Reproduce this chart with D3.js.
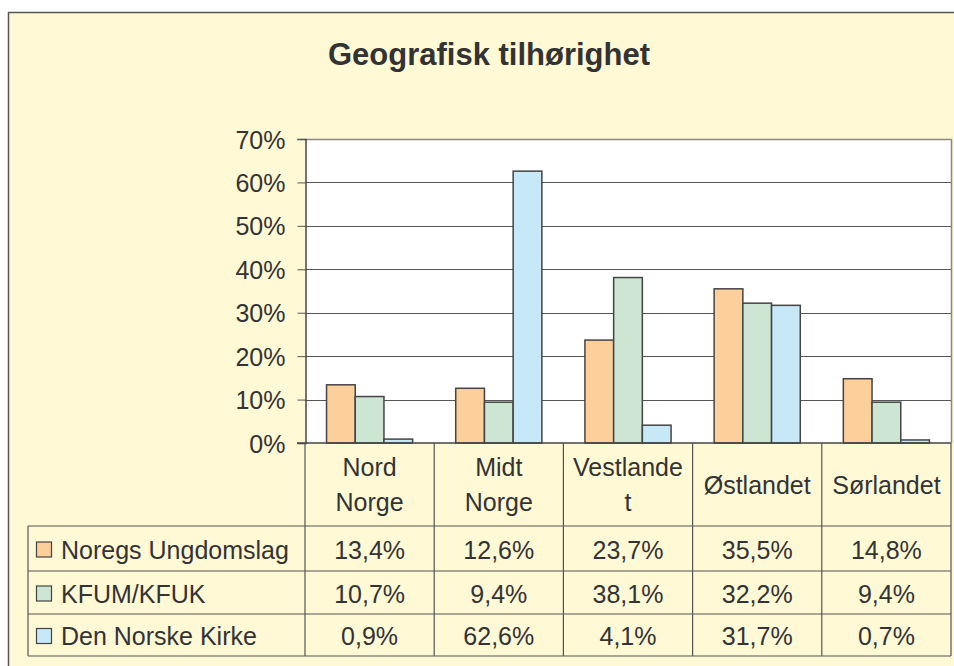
<!DOCTYPE html>
<html><head><meta charset="utf-8">
<script src="https://cdn.jsdelivr.net/npm/d3@7"></script>
<style>body{margin:0;background:#fff}svg{display:block}</style>
</head><body>
<svg id="chart" width="954" height="666"></svg>
<script>
const categories = ["Nord Norge","Midt Norge","Vestlandet","Østlandet","Sørlandet"];
const headerLines = [["Nord","Norge"],["Midt","Norge"],["Vestlande","t"],["Østlandet"],["Sørlandet"]];
const seriesNames = ["Noregs Ungdomslag","KFUM/KFUK","Den Norske Kirke"];
const noregsUngdomslag = [13.4,12.6,23.7,35.5,14.8];
const kfumKfuk = [10.7,9.4,38.1,32.2,9.4];
const denNorskeKirke = [0.9,62.6,4.1,31.7,0.7];
const yTicks = [0,10,20,30,40,50,60,70];
const colors = ["#FDD09B","#CDE6D4","#C6E8F7"];
const series = [noregsUngdomslag,kfumKfuk,denNorskeKirke];

const svg = d3.select("#chart");
const font = "'Liberation Sans', Arial, sans-serif";
const txt = "#333";
const fs = 25;

// outer frame
svg.append("rect").attr("x",8.5).attr("y",12.5).attr("width",1000).attr("height",700)
  .attr("fill","#FFF9D6").attr("stroke","#555").attr("stroke-width",1.5);

svg.append("text").attr("x",489).attr("y",65).attr("text-anchor","middle")
  .attr("font-family",font).attr("font-weight","bold").attr("font-size",31).attr("fill",txt)
  .text("Geografisk tilhørighet");

const L=305, R=951, T=139, B=443;
const x = d3.scaleBand().domain(categories).range([L,R]).paddingInner(0).paddingOuter(0);
const cw = x.bandwidth();
const bw = cw/4.5;
const y = d3.scaleLinear().domain([0,70]).range([B,T]);

svg.append("rect").attr("x",L).attr("y",T).attr("width",R-L).attr("height",B-T).attr("fill","#fff");

// gridlines
svg.append("g").selectAll("line").data(yTicks.filter(d=>d>0&&d<70)).join("line")
  .attr("x1",L).attr("x2",R).attr("y1",d=>Math.round(y(d))+0.5).attr("y2",d=>Math.round(y(d))+0.5)
  .attr("stroke","#555").attr("stroke-width",1);
// plot border top/right
svg.append("path").attr("d",`M${L},${T+0.5}H${R+0.5}V${B}`).attr("fill","none").attr("stroke","#8C8783").attr("stroke-width",1.5);

// y axis
const yAxis = d3.axisLeft(y).tickValues(yTicks).tickFormat(d=>d+"%").tickSize(8).tickPadding(12);
const ya = svg.append("g").attr("transform",`translate(${L+0.5},0)`).call(yAxis);
ya.select(".domain").attr("stroke","#444").attr("stroke-width",1.5);
ya.selectAll(".tick line").attr("stroke","#555");
ya.selectAll(".tick text").attr("font-family",font).attr("font-size",fs).attr("fill",txt).attr("dy","0.36em");

// bars
series.forEach((s,si)=>{
  svg.append("g").selectAll("rect").data(s).join("rect")
    .attr("x",(d,i)=>x(categories[i])+0.75*bw+si*bw)
    .attr("y",d=>y(d))
    .attr("width",bw)
    .attr("height",d=>B-y(d))
    .attr("fill",colors[si]).attr("stroke","#444").attr("stroke-width",1.5);
});

// baseline
svg.append("line").attr("x1",L-8).attr("x2",R).attr("y1",B).attr("y2",B).attr("stroke","#444").attr("stroke-width",1.5);

// table
const rowY = [526,571,614,656];
const tg = svg.append("g").attr("stroke","#555").attr("stroke-width",1.2);
rowY.forEach(yy=>tg.append("line").attr("x1",28).attr("x2",R).attr("y1",yy).attr("y2",yy));
tg.append("line").attr("x1",28).attr("x2",28).attr("y1",rowY[0]).attr("y2",rowY[3]);
categories.forEach(c=>tg.append("line").attr("x1",x(c)).attr("x2",x(c)).attr("y1",B).attr("y2",rowY[3]));
tg.append("line").attr("x1",R).attr("x2",R).attr("y1",B).attr("y2",rowY[3]);

// header labels
const hc = (B+rowY[0])/2;
categories.forEach((c,i)=>{
  const lines = headerLines[i];
  const lh = 35;
  const t = svg.append("text").attr("text-anchor","middle").attr("font-family",font).attr("font-size",fs).attr("fill",txt);
  lines.forEach((ln,j)=>{
    t.append("tspan").attr("x",x(c)+cw/2)
      .attr("y",hc - (lines.length-1)*lh/2 + j*lh + fs*0.36).text(ln);
  });
});

// rows
const fmt = v => v.toFixed(1).replace(".",",")+"%";
series.forEach((s,si)=>{
  const cy = (rowY[si]+rowY[si+1])/2;
  const base = cy + fs*0.36 + 1;
  svg.append("rect").attr("x",36.5).attr("y",base-16.5).attr("width",15).attr("height",15)
    .attr("fill",colors[si]).attr("stroke","#444").attr("stroke-width",1.2);
  svg.append("text").attr("x",61).attr("y",base).attr("font-family",font).attr("font-size",fs).attr("fill",txt).text(seriesNames[si]);
  svg.append("g").selectAll("text").data(s).join("text")
    .attr("x",(d,i)=>x(categories[i])+cw/2).attr("y",base).attr("text-anchor","middle")
    .attr("font-family",font).attr("font-size",fs).attr("fill",txt).text(fmt);
});
</script>
</body></html>
